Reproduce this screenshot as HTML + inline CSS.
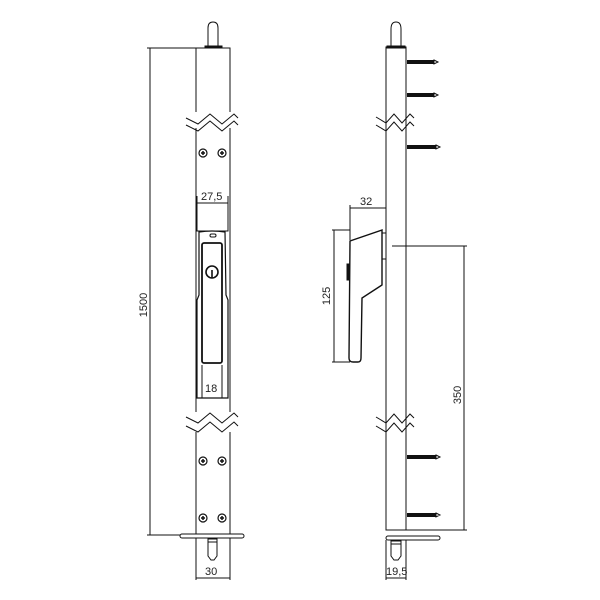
<!DOCTYPE html><html><head><style>body{margin:0;background:#fff}svg{display:block}text{font-family:"Liberation Sans",sans-serif;font-size:11px;fill:#222;stroke:none}</style></head><body>
<svg width="600" height="600" viewBox="0 0 600 600" fill="none" stroke="#111" stroke-width="1">
<path d="M208,47 V28 Q208,22 213,22 Q218,22 218,28 V47" />
<rect x="205" y="46" width="17" height="2" fill="#111"/>
<rect x="196" y="48" width="34" height="487" />
<g fill="#fff" stroke="none"><rect x="195" y="112" width="36" height="16"/><rect x="195" y="412" width="36" height="20"/><rect x="385" y="112" width="22" height="16"/><rect x="385" y="412" width="22" height="20"/></g>
<path d="M186,118 L198,124 L210,114 L222,124 L234,114 L238,118 M186,125 L198,131 L210,121 L222,131 L234,121 L238,125"/>
<path d="M186,417 L198,423 L210,413 L222,423 L234,413 L238,417 M186,426 L198,432 L210,422 L222,432 L234,422 L238,426"/>
<g stroke-width="1.2"><circle cx="203" cy="153" r="4"/><circle cx="222" cy="153" r="4"/><circle cx="203" cy="461" r="4"/><circle cx="222" cy="461" r="4"/><circle cx="203" cy="518" r="4"/><circle cx="222" cy="518" r="4"/></g>
<g stroke-width="1.5"><path d="M201,153h4M203,151v4M220,153h4M222,151v4M201,461h4M203,459v4M220,461h4M222,459v4M201,518h4M203,516v4M220,518h4M222,516v4"/></g>
<rect x="197" y="203" width="31" height="28"/>
<path d="M197,203 V196 M228,203 V196 M197,203 H228"/>
<text x="201" y="200">27,5</text>
<path d="M199,232 Q212,230 225,232 L226,295 L228,300 V398 H197 V300 L199,295 Z" stroke-width="1.2"/>
<rect x="210" y="234" width="6" height="3" rx="1.5"/>
<rect x="202" y="243" width="20" height="120" rx="2" stroke-width="1.8"/>
<circle cx="212" cy="272" r="6" stroke-width="1.6"/><path d="M212,270 V278" stroke-width="1.6"/>
<path d="M202,365 V398 M222,365 V398"/>
<text x="205" y="392">18</text>
<path d="M147,48 H196 M150,48 V535 M147,535 H196"/>
<text transform="translate(147,305) rotate(-90)" text-anchor="middle">1500</text>
<rect x="180" y="534" width="64" height="4" rx="2" fill="#fff"/>
<rect x="208" y="539" width="9" height="3"/>
<path d="M208,542 V556 L211,560 H214 L217,556 V542"/>
<path d="M196,538 V580 M230,538 V580 M196,578 H230"/>
<text x="205" y="575">30</text>
<path d="M391,47 V29 Q391,22 396,22 Q401,22 401,29 V47"/>
<rect x="387" y="46" width="18" height="2" fill="#111"/>
<rect x="386" y="47" width="20" height="483"/>
<path d="M376,117 L386,123 L394,114 L402,123 L410,114 L414,118 M376,125 L386,131 L394,122 L402,131 L410,122 L414,126"/>
<path d="M376,417 L386,423 L394,414 L402,423 L410,414 L414,418 M376,426 L386,432 L394,423 L402,432 L410,423 L414,427"/>
<g stroke-width="4"><path d="M407,62H434M407,95H434M407,147H436M407,457H436M407,515H436"/></g>
<g fill="#fff"><path d="M434,60 L438,62 L434,64Z M434,93 L438,95 L434,97Z M436,145 L440,147 L436,149Z M436,455 L440,457 L436,459Z M436,513 L440,515 L436,517Z"/></g>
<path d="M382,230 L350,241 L349,358 Q349,362 353,362 H358 Q361,362 361,358 L362,298 L382,285 Z" stroke-width="1.4"/>
<rect x="382" y="233" width="4" height="26"/>
<rect x="347" y="264" width="2" height="16" fill="#111"/>
<path d="M350,240 V205 M350,208 H386"/>
<text x="360" y="205">32</text>
<path d="M332,230 H350 M334,230 V362 M332,362 H350"/>
<text transform="translate(330,296) rotate(-90)" text-anchor="middle">125</text>
<path d="M392,246 H467 M464,246 V530 M406,530 H467"/>
<text transform="translate(461,395) rotate(-90)" text-anchor="middle">350</text>
<rect x="386" y="536" width="54" height="4" rx="2" fill="#fff"/>
<rect x="391" y="541" width="10" height="3"/>
<path d="M391,544 V556 L394,560 H398 L401,556 V544"/>
<path d="M386,540 V580 M406,540 V580 M386,578 H406"/>
<text x="386" y="575">19,5</text>
</svg></body></html>
